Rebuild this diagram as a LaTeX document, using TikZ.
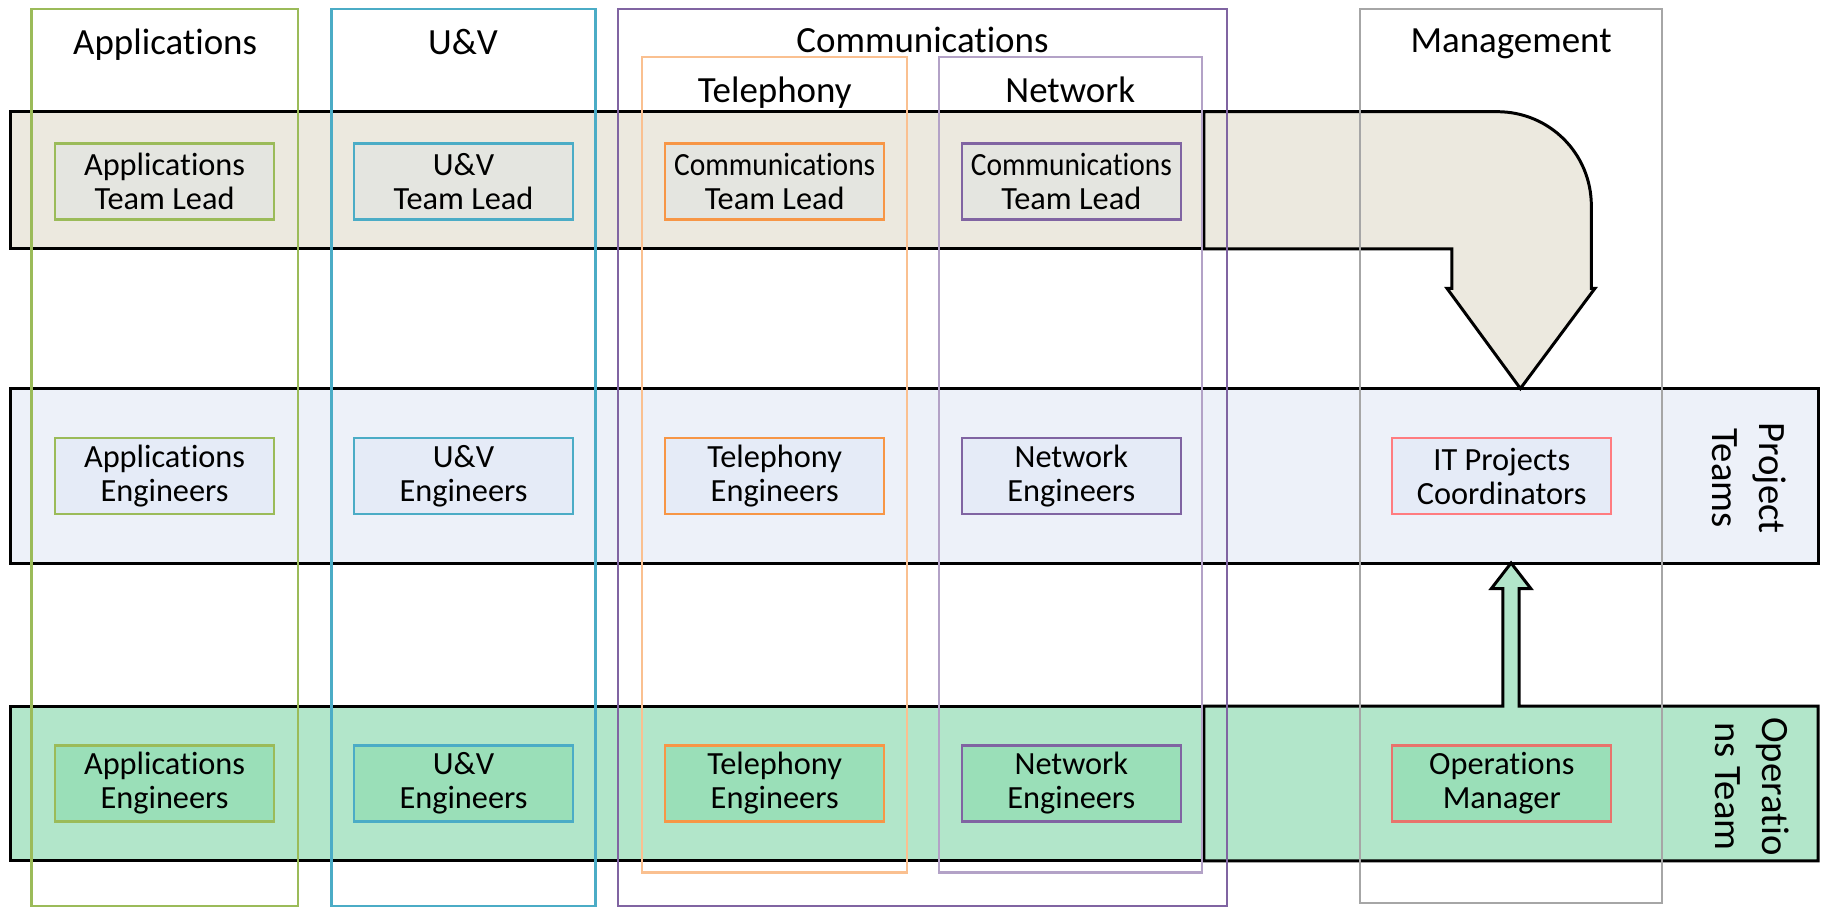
\documentclass[tikz,border=0pt]{standalone}
\usepackage{fontspec}
\setmainfont{Carlito}[Ligatures=NoCommon]
\usetikzlibrary{positioning}

\definecolor{appGreen}{HTML}{9BBB59}
\definecolor{uvBlue}{HTML}{4BACC6}
\definecolor{comPurple}{HTML}{8064A2}
\definecolor{telLight}{HTML}{FAC090}
\definecolor{telOrange}{HTML}{F79646}
\definecolor{netLilac}{HTML}{B3A2C7}
\definecolor{mgmtGray}{HTML}{A6A6A6}
\definecolor{itRed}{HTML}{FF7C80}
\definecolor{opRed}{HTML}{E8736C}
\definecolor{leadBand}{HTML}{ECE9DF}
\definecolor{leadBox}{HTML}{E4E5E0}
\definecolor{projBand}{HTML}{EDF1F9}
\definecolor{projBox}{HTML}{E5EBF7}
\definecolor{opsBand}{HTML}{B2E6CA}
\definecolor{opsBox}{HTML}{9ADFB8}

\newcommand{\comms}{\scalebox{0.91}[1]{Communications}}

\begin{document}
\begin{tikzpicture}[
    x=0.01163cm, y=-0.01163cm,
    band/.style={draw=black, line width=0.85pt, line join=miter},
    column/.style={line width=0.65pt},
    header/.style={anchor=base, font=\fontsize{10.5}{12.6}\selectfont},
    role/.style={draw, line width=0.6pt, minimum width=2.19cm, minimum height=0.76cm,
                 align=center, inner sep=0pt, font=\fontsize{9.2}{9.7}\selectfont},
    side/.style={rotate=-90, align=center, font=\fontsize{11}{13.4}\selectfont}
    ]

    % Determines the boundries
    \path [use as bounding box] (0,0) rectangle (1568,781);

    % Horizontal bands
    \draw[band, fill=leadBand] (9,96) rectangle (1035,214);
    \draw[band, fill=projBand] (9,334) rectangle (1563,484);
    \draw[band, fill=opsBand]  (9,607) rectangle (1035,740);

    % Bent arrow, team leads down to the project teams
    \draw[band, fill=leadBand]
        (1035,96) -- (1287,96) .. controls (1332,96) and (1368,132) .. (1368,177)
        -- (1368,248) -- (1371,248) -- (1307,334) -- (1244,248) -- (1248,248)
        -- (1248,214) -- (1035,214) -- cycle;

    % Operations block with its arrow up
    \draw[band, fill=opsBand]
        (1035,607) -- (1292,607) -- (1292,506) -- (1282,506) -- (1299,484)
        -- (1316,506) -- (1306,506) -- (1306,607) -- (1563,607)
        -- (1563,740) -- (1035,740) -- cycle;

    % Vertical columns
    \foreach \xa/\xb/\ya/\yb/\col in {27/256/8/779/appGreen, 285/512/8/779/uvBlue,
        531/1055/8/779/comPurple, 552/780/49/750/telLight,
        807/1033/49/750/netLilac, 1169/1429/8/776/mgmtGray}{
        \draw[column, draw=\col] (\xa,\ya) rectangle (\xb,\yb);
    }

    % Column headers
    \node (hApp)  [header] at (142,47)   {Applications};
    \node (hUV)   [header] at (398,47)   {U\&V};
    \node (hCom)  [header] at (793,45.5) {Communications};
    \node (hTel)  [header] at (666,88)   {Telephony};
    \node (hNet)  [header] at (920,88)   {Network};
    \node (hMgmt) [header] at (1299,45.5) {Management};

    % Team leads
    \foreach \n/\x/\col/\txt in {App/141.5/appGreen/Applications,
        UV/398.5/uvBlue/U\&V, Tel/666/telOrange/\comms,
        Net/921/comPurple/\comms}{
        \node (lead\n) [role, draw=\col, fill=leadBox] at (\x,156) {\txt\\Team Lead};
    }

    % Project teams and operations team
    \foreach \row/\y/\fil in {proj/409.5/projBox, ops/673.5/opsBox}{
        \foreach \n/\x/\col/\txt in {App/141.5/appGreen/Applications,
            UV/398.5/uvBlue/U\&V, Tel/666/telOrange/Telephony,
            Net/921/comPurple/Network}{
            \node (\row\n) [role, draw=\col, fill=\fil] at (\x,\y) {\txt\\Engineers};
        }
    }
    \node (itCoord) [role, draw=itRed, fill=projBox] at (1291,409.5) {IT Projects\\Coordinators};
    \node (opsMgr)  [role, draw=opRed, fill=opsBox]  at (1291,673.5) {Operations\\Manager};

    % Band names
    \node (sProj) [side] at (1504,411) {Project\\Teams};
    \node (sOps)  [side] at (1506,676) {Operatio\\ns Team};

\end{tikzpicture}
\end{document}
